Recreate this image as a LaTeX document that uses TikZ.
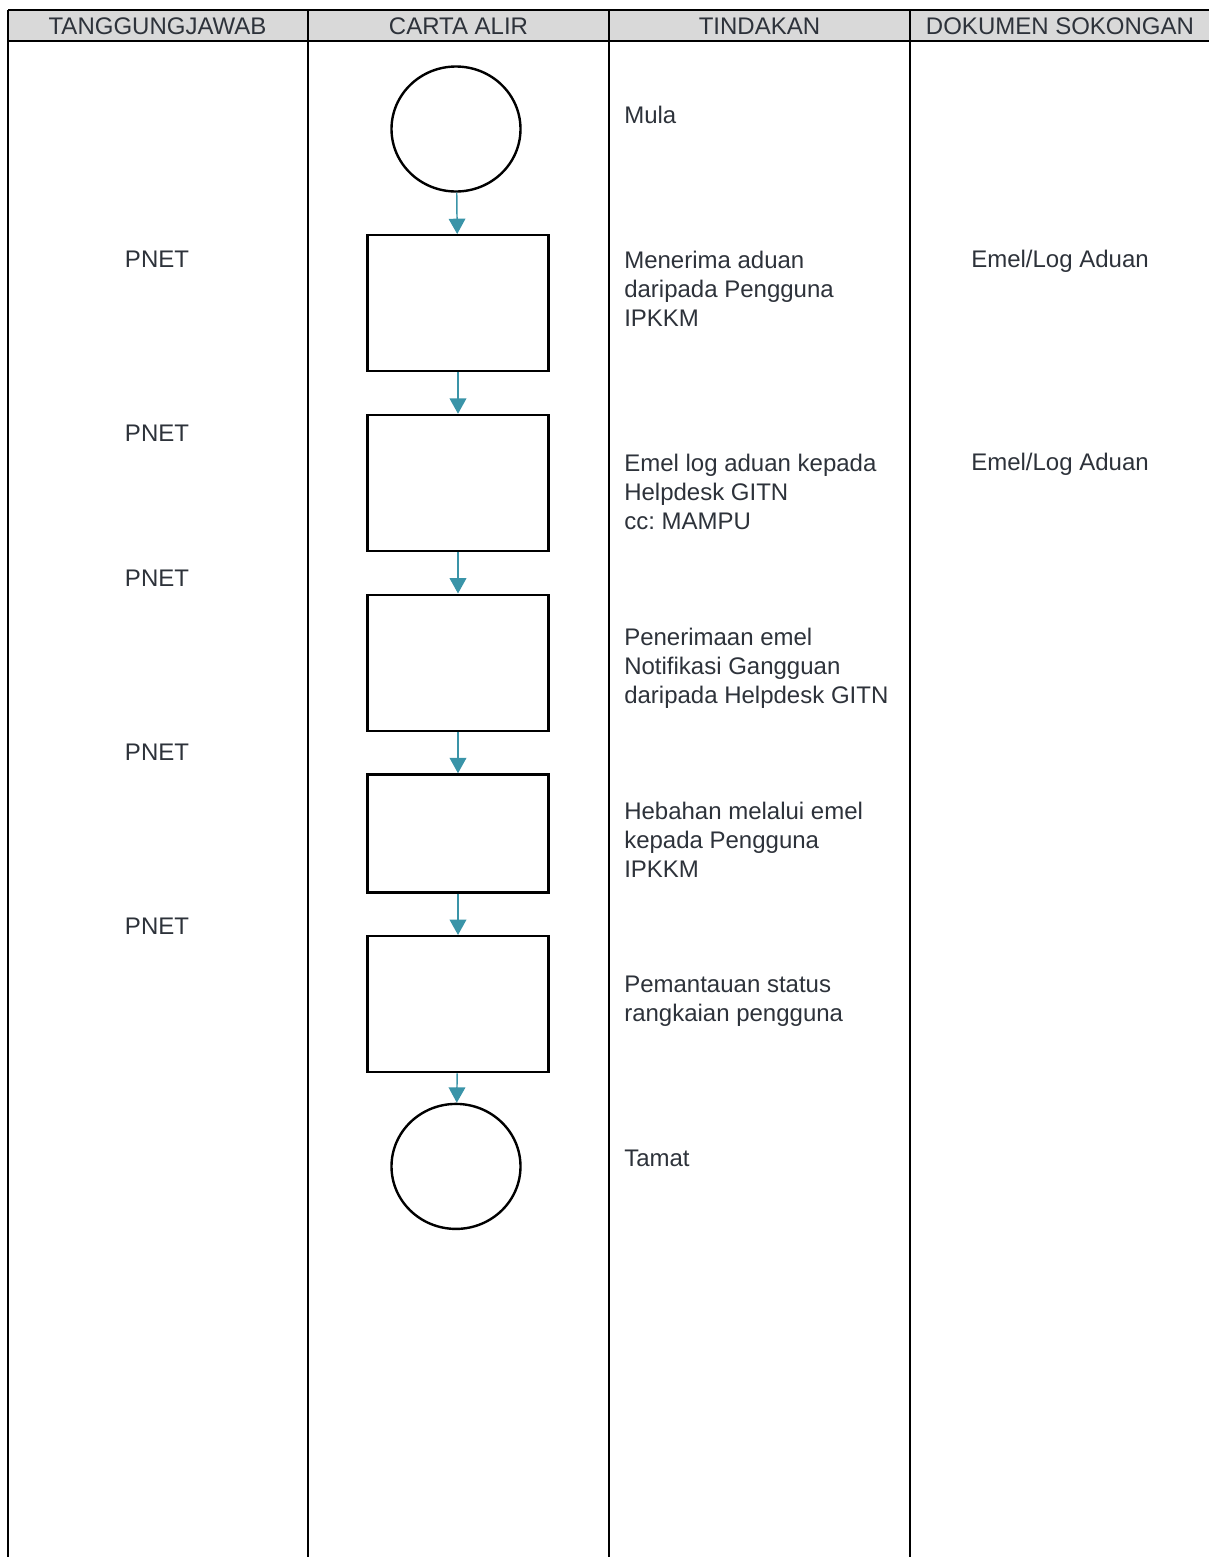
\documentclass[tikz,border=0pt]{standalone}
\usepackage{fontspec}
\setmainfont{Liberation Sans}
\frenchspacing
\usetikzlibrary{arrows.meta,positioning,shapes.geometric}
\definecolor{inkgray}{RGB}{45,50,58}
\definecolor{flowteal}{RGB}{58,148,168}
\definecolor{headgray}{RGB}{217,217,217}

\begin{document}
\begin{tikzpicture}[x=0.75pt, y=-0.75pt, node distance=31pt,
		terminal/.style={ellipse, draw=black, line width=1.8pt, minimum width=96.75pt, minimum height=93.75pt, inner sep=0pt},
		procbox/.style={rectangle, draw=black, line width=1.8pt, minimum width=135.75pt, minimum height=102pt, inner sep=0pt},
		arrow/.style={draw=flowteal, line width=1.1pt, -{Triangle[width=12.5pt,length=11.5pt]}},
		cell/.style={anchor=base, inner sep=0pt, text=inkgray, font=\fontsize{18}{21.75}\selectfont},
		action/.style={anchor=north west, align=left, inner sep=0pt, text=inkgray, font=\fontsize{18}{21.75}\selectfont},
		rule/.style={draw=black, line width=1.5pt}
	]
	\useasboundingbox (0,0) rectangle (1209,1557);
	\fill [headgray] (8,10) rectangle (1209,41);
	\draw [rule] (8,10) -- (1209,10);
	\draw [rule] (8,41) -- (1209,41);
	\draw [rule] (8,10) -- (8,1557);
	\draw [rule] (308,10) -- (308,1557);
	\draw [rule] (609,10) -- (609,1557);
	\draw [rule] (910,10) -- (910,1557);

	\node (hResp) [cell] at (157.5,34.5) {TANGGUNGJAWAB};
	\node (hFlow) [cell] at (458.5,34.5) {CARTA ALIR};
	\node (hAct)  [cell] at (759.5,34.5) {TINDAKAN};
	\node (hDoc)  [cell] at (1060,34.5) {DOKUMEN SOKONGAN};

	\node (start)    [terminal] at (456,129) {};
	\node (receive)  [procbox, below=of start, xshift=1.5pt] {};
	\node (logmail)  [procbox, below=of receive] {};
	\node (notice)   [procbox, below=of logmail] {};
	\node (announce) [procbox, below=of notice, minimum height=88.5pt] {};
	\node (monitor)  [procbox, below=of announce] {};
	\node (finish)   [terminal, below=22pt of monitor, xshift=-1.5pt] {};

	\draw [arrow] (start) -- (receive);
	\draw [arrow] (receive) -- (logmail);
	\draw [arrow] (logmail) -- (notice);
	\draw [arrow] (notice) -- (announce);
	\draw [arrow] (announce) -- (monitor);
	\draw [arrow] (monitor) -- (finish);

	\node (resp1) [cell] at (157,267.5) {PNET};
	\node (resp2) [cell] at (157,441.5) {PNET};
	\node (resp3) [cell] at (157,586.5) {PNET};
	\node (resp4) [cell] at (157,760.5) {PNET};
	\node (resp5) [cell] at (157,934.5) {PNET};

	\node (actStart)    [action] at (624,105.5) {Mula};
	\node (actReceive)  [action] at (624,250.5) {Menerima aduan \\ daripada Pengguna \\ IPKKM};
	\node (actLogmail)  [action] at (624,453.5) {Emel log aduan kepada \\ Helpdesk GITN \\ cc: MAMPU};
	\node (actNotice)   [action] at (624,627.5) {Penerimaan emel \\ Notifikasi Gangguan \\ daripada Helpdesk GITN};
	\node (actAnnounce) [action] at (624,801.5) {Hebahan melalui emel \\ kepada Pengguna \\ IPKKM};
	\node (actMonitor)  [action] at (624,975.5) {Pemantauan status \\ rangkaian pengguna};
	\node (actFinish)   [action] at (624,1149.5) {Tamat};

	\node (doc1) [cell] at (1060,267.5) {Emel/Log Aduan};
	\node (doc2) [cell] at (1060,470.5) {Emel/Log Aduan};
\end{tikzpicture}
\end{document}
